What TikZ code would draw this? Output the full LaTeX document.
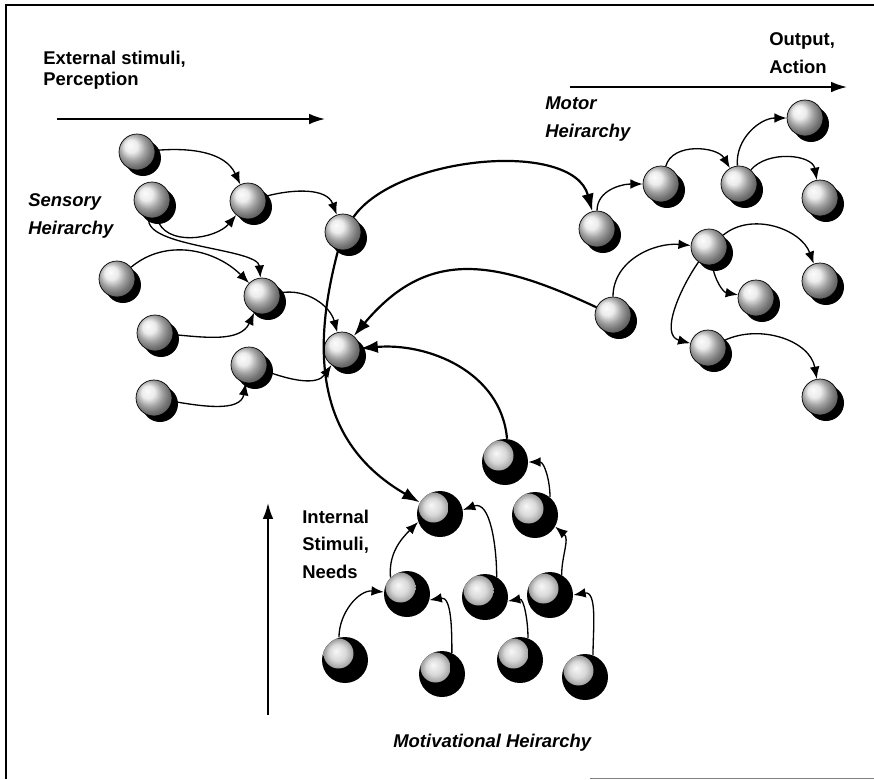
\documentclass[tikz,border=0pt]{standalone}
\usepackage{fontspec}
\setmainfont{Liberation Sans}
\usetikzlibrary{arrows.meta,shadows}

\begin{document}
\begin{tikzpicture}[x=0.02cm,y=0.02cm,
  ball/.style={circle,draw,line width=0.4pt,inner sep=0,minimum size=0.72cm,ball color=gray!20,
    drop shadow={shadow xshift=0.12cm,shadow yshift=-0.12cm,opacity=1,fill=black}},
  need/.style={circle,fill=black,inner sep=0,minimum size=0.92cm,
    path picture={\shade[ball color=gray!40] ([shift={(-0.13cm,0.13cm)}]path picture bounding box.center) circle (0.3cm);}},
  link/.style={-{Latex[length=7pt,width=5.5pt]},line width=0.75pt},
  main/.style={-{Latex[length=10pt,width=7pt]},line width=1.25pt},
  flow/.style={-{Latex[length=9pt,width=6pt]},line width=1pt},
  lbl/.style={font=\fontsize{10.5}{15.4}\selectfont\bfseries,align=left,anchor=base west,inner sep=0},
  ilbl/.style={lbl,font=\fontsize{10.5}{15.4}\selectfont\bfseries\itshape}]
\useasboundingbox (0,0) rectangle (874,-779);
\draw[line width=1.1pt] (874,-5) -- (6,-5) -- (6,-779);
\draw[gray,line width=0.5pt] (590,-778) -- (874,-778);

\node[lbl,font=\fontsize{10.5}{11.5}\selectfont\bfseries] (ext) at (43,-85) {External stimuli,\\Perception};
\node[ilbl] (sens) at (28,-234) {Sensory\\Heirarchy};
\node[lbl] (out) at (769,-73) {Output,\\Action};
\node[ilbl] (mot) at (545,-137) {Motor\\Heirarchy};
\node[lbl] (int) at (302,-578) {Internal\\Stimuli,\\Needs};
\node[ilbl] (motiv) at (393,-747) {Motivational Heirarchy};

\coordinate (e0) at (57,-119);
\coordinate (e1) at (325,-119);
\coordinate (o0) at (570,-87);
\coordinate (o1) at (847,-87);
\coordinate (i0) at (268,-715);
\coordinate (i1) at (268,-503);
\draw[flow] (e0) -- (e1);
\draw[flow] (o0) -- (o1);
\draw[flow] (i0) -- (i1);

\node[ball] (s1) at (137,-152) {};
\node[ball] (s2) at (152,-200) {};
\node[ball] (s3) at (248,-201) {};
\node[ball] (s4) at (343,-232) {};
\node[ball] (s5) at (117,-279) {};
\node[ball] (s6) at (262,-296) {};
\node[ball] (s7) at (155,-333) {};
\node[ball] (s8) at (249,-365) {};
\node[ball] (s9) at (154,-398) {};
\node[ball] (s10) at (342,-350) {};

\node[ball] (m1) at (597,-229) {};
\node[ball] (m2) at (661,-184) {};
\node[ball] (m3) at (739,-184) {};
\node[ball] (m4) at (805,-118) {};
\node[ball] (m5) at (820,-198) {};
\node[ball] (m6) at (613,-315) {};
\node[ball] (m7) at (709,-247) {};
\node[ball] (m8) at (820,-281) {};
\node[ball] (m9) at (756,-298) {};
\node[ball] (m10) at (708,-348) {};
\node[ball] (m11) at (820,-397) {};

\node[need] (v1) at (505,-462) {};
\node[need] (v2) at (440,-514) {};
\node[need] (v3) at (535,-515) {};
\node[need] (v4) at (407,-594) {};
\node[need] (v5) at (485,-597) {};
\node[need] (v6) at (550,-595) {};
\node[need] (v7) at (345,-660) {};
\node[need] (v8) at (442,-674) {};
\node[need] (v9) at (520,-660) {};
\node[need] (v10) at (585,-677) {};

\draw[link] (s1) to[out=5,in=115] (s3);
\draw[link] (s2) to[out=-75,in=-130] (s3);
\draw[link] (s2) to[out=-100,in=95,looseness=0.6] (s6);
\draw[link] (s5) to[out=40,in=135] (s6);
\draw[link] (s7) to[out=-5,in=-115] (s6);
\draw[link] (s3) to[out=15,in=110] (s4);
\draw[link] (s6) to[out=10,in=105] (s10);
\draw[link] (s9) to[out=-10,in=-100] (s8);
\draw[link] (s8) to[out=-20,in=-125] (s10);

\draw[main] (s4) to[out=55,in=105,looseness=0.8] (m1);
\draw[main] (m6) to[out=155,in=50,looseness=1.2] (s10);
\draw[main] (v1.85) to[out=95,in=5] (s10);
\draw[main] (s4) to[out=-105,in=150,looseness=1.1] (v2);

\draw[link] (m1) to[out=90,in=180] (m2);
\draw[link] (m2) to[out=75,in=120] (m3);
\draw[link] (m3) to[out=95,in=180] (m4);
\draw[link] (m3) to[out=50,in=100] (m5);
\draw[link] (m6) to[out=90,in=175] (m7);
\draw[link] (m7) to[out=40,in=110] (m8);
\draw[link] (m7) to[out=-80,in=170] (m9);
\draw[link] (m7) to[out=-125,in=165] (m10);
\draw[link] (m10) to[out=25,in=100] (m11);

\draw[link] (v4.135) to[out=95,in=-135] (v2.200);
\draw[link] (v5.60) to[out=90,in=20] (v2.10);
\draw[link] (v7.105) to[out=90,in=175] (v4.175);
\draw[link] (v8.65) to[out=90,in=10] (v4.-15);
\draw[link] (v9.70) to[out=90,in=10] (v5.-10);
\draw[link] (v10.70) to[out=90,in=10] (v6.0);
\draw[link] (v6.60) to[out=90,in=-40] (v3.-30);
\draw[link] (v3.50) to[out=90,in=0] (v1.0);
\end{tikzpicture}
\end{document}
